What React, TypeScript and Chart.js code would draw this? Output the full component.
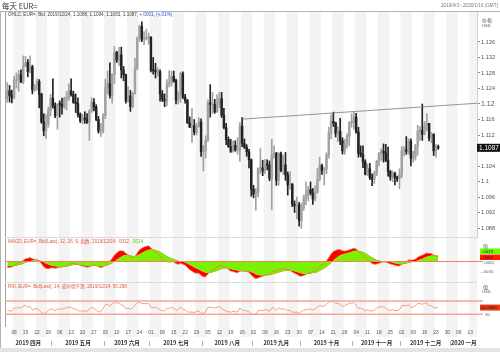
import React, { useEffect, useRef } from "react";
import { Chart, registerables } from "chart.js";

Chart.register(...registerables);

// Daily EUR= OHLC, 2019-04-03 .. 2019-12-24 (trading days)
const openP = [1.1213,1.1234,1.1221,
1.1217,1.1261,1.1263,1.1275,1.1257,
1.1297,1.1307,1.1284,1.1296,1.1236,
1.1246,1.1258,1.1225,1.1154,1.1131,
1.1149,1.1183,1.1215,1.1195,1.1170,
1.1200,1.1199,1.1193,1.1214,1.1215,
1.1234,1.1224,1.1204,1.1201,1.1173,
1.1157,1.1164,1.1161,1.1153,1.1182,
1.1204,1.1192,1.1160,1.1130,1.1131,
1.1170,1.1242,1.1253,1.1222,1.1277,
1.1333,1.1313,1.1327,1.1288,1.1275,
1.1208,1.1221,1.1193,1.1228,1.1292,
1.1369,1.1400,1.1367,1.1369,1.1370,
1.1372,1.1287,1.1286,1.1283,1.1283,
1.1226,1.1212,1.1208,1.1252,1.1255,
1.1271,1.1260,1.1210,1.1225,1.1278,
1.1218,1.1209,1.1151,1.1140,1.1144,
1.1127,1.1144,1.1154,1.1077,1.1082,
1.1107,1.1203,1.1199,1.1199,1.1180,
1.1201,1.1214,1.1171,1.1139,1.1108,
1.1090,1.1078,1.1093,1.1081,1.1081,
1.1143,1.1098,1.1088,1.1077,1.1056,
1.0980,1.0967,1.0971,1.1034,1.1035,
1.1027,1.1045,1.1043,1.1008,1.1067,
1.1073,1.1003,1.1072,1.1029,1.1043,
1.1017,1.0991,1.0993,1.0941,1.0938,
1.0940,1.0899,1.0932,1.0957,1.0966,
1.0979,1.0970,1.0955,1.0972,1.1005,
1.1041,1.1029,1.1032,1.1069,1.1125,
1.1155,1.1151,1.1124,1.1130,1.1105,
1.1079,1.1099,1.1117,1.1152,1.1152,
1.1166,1.1128,1.1073,1.1069,1.1050,
1.1019,1.1033,1.1010,1.1006,1.1022,
1.1052,1.1072,1.1078,1.1074,1.1055,
1.1025,1.1011,1.1021,1.1010,1.1007,
1.1018,1.1079,1.1082,1.1078,1.1104,
1.1060,1.1064,1.1092,1.1130,1.1132,
1.1122,1.1144,1.1150,1.1112,1.1122,
1.1079,1.1088];

const highP = [1.1255,1.1248,1.1236,
1.1272,1.1280,1.1286,1.1288,1.1324,
1.1323,1.1315,1.1324,1.1300,1.1250,
1.1265,1.1263,1.1228,1.1175,1.1173,
1.1192,1.1225,1.1265,1.1203,1.1200,
1.1208,1.1215,1.1218,1.1232,1.1252,
1.1265,1.1233,1.1226,1.1216,1.1177,
1.1174,1.1180,1.1175,1.1185,1.1216,
1.1214,1.1198,1.1168,1.1150,1.1175,
1.1264,1.1285,1.1306,1.1278,1.1348,
1.1336,1.1346,1.1347,1.1297,1.1277,
1.1244,1.1235,1.1230,1.1318,1.1373,
1.1404,1.1412,1.1387,1.1393,1.1383,
1.1374,1.1320,1.1305,1.1293,1.1288,
1.1235,1.1226,1.1263,1.1286,1.1285,
1.1285,1.1264,1.1232,1.1282,1.1283,
1.1225,1.1212,1.1167,1.1188,1.1160,
1.1150,1.1165,1.1162,1.1093,1.1118,
1.1211,1.1250,1.1230,1.1212,1.1224,
1.1230,1.1230,1.1189,1.1150,1.1115,
1.1109,1.1105,1.1105,1.1113,1.1152,
1.1165,1.1110,1.1095,1.1083,1.1058,
1.0990,1.0982,1.1035,1.1085,1.1055,
1.1057,1.1056,1.1053,1.1109,1.1092,
1.1075,1.1075,1.1076,1.1068,1.1075,
1.1025,1.1025,1.0995,1.0950,1.0960,
1.0946,1.0944,1.0965,1.0999,1.0988,
1.0999,1.0982,1.0989,1.1033,1.1063,
1.1045,1.1036,1.1074,1.1140,1.1172,
1.1179,1.1153,1.1141,1.1163,1.1113,
1.1109,1.1123,1.1155,1.1175,1.1179,
1.1176,1.1140,1.1092,1.1092,1.1056,
1.1045,1.1047,1.1020,1.1027,1.1055,
1.1075,1.1084,1.1097,1.1096,1.1089,
1.1029,1.1027,1.1024,1.1014,1.1033,
1.1090,1.1090,1.1116,1.1110,1.1110,
1.1078,1.1096,1.1145,1.1142,1.1200,
1.1155,1.1175,1.1150,1.1127,1.1123,
1.1095,1.1094];

const lowP = [1.1204,1.1205,1.1203,
1.1213,1.1241,1.1233,1.1255,1.1252,
1.1296,1.1270,1.1280,1.1226,1.1232,
1.1236,1.1190,1.1150,1.1118,1.1111,
1.1140,1.1169,1.1189,1.1165,1.1135,
1.1166,1.1174,1.1188,1.1185,1.1209,
1.1220,1.1202,1.1178,1.1166,1.1152,
1.1149,1.1150,1.1150,1.1106,1.1178,
1.1182,1.1157,1.1125,1.1116,1.1125,
1.1162,1.1226,1.1215,1.1202,1.1253,
1.1307,1.1298,1.1267,1.1260,1.1202,
1.1205,1.1181,1.1190,1.1225,1.1288,
1.1361,1.1361,1.1353,1.1365,1.1354,
1.1283,1.1277,1.1267,1.1272,1.1207,
1.1206,1.1193,1.1195,1.1244,1.1246,
1.1256,1.1200,1.1200,1.1204,1.1214,
1.1202,1.1150,1.1139,1.1101,1.1120,
1.1120,1.1140,1.1065,1.1027,1.1060,
1.1103,1.1166,1.1175,1.1176,1.1178,
1.1190,1.1165,1.1136,1.1095,1.1088,
1.1075,1.1076,1.1078,1.1070,1.1052,
1.1090,1.1085,1.1065,1.1035,1.0962,
1.0958,1.0926,1.0960,1.1020,1.1015,
1.1020,1.1030,1.1002,1.0927,1.1060,
1.0990,1.0990,1.1025,1.1018,1.1003,
1.0965,1.0980,1.0935,1.0920,1.0904,
1.0885,1.0879,1.0925,1.0940,1.0950,
1.0965,1.0941,1.0950,1.0970,1.1002,
1.1018,1.0991,1.1020,1.1060,1.1110,
1.1142,1.1115,1.1103,1.1095,1.1071,
1.1070,1.1086,1.1092,1.1140,1.1135,
1.1125,1.1063,1.1063,1.1036,1.1017,
1.1015,1.1005,1.0989,1.0995,1.1015,
1.1040,1.1055,1.1050,1.1051,1.1014,
1.1003,1.0999,1.0991,1.1000,1.0981,
1.1010,1.1066,1.1070,1.1070,1.1040,
1.1050,1.1055,1.1068,1.1106,1.1106,
1.1120,1.1131,1.1105,1.1100,1.1067,
1.1063,1.1083];

const closeP = [1.1234,1.1221,1.1217,
1.1261,1.1263,1.1275,1.1257,1.1297,
1.1307,1.1284,1.1296,1.1236,1.1246,
1.1258,1.1225,1.1154,1.1131,1.1149,
1.1183,1.1215,1.1195,1.1170,1.1200,
1.1199,1.1193,1.1214,1.1215,1.1234,
1.1224,1.1204,1.1201,1.1173,1.1157,
1.1164,1.1161,1.1153,1.1182,1.1204,
1.1192,1.1160,1.1130,1.1131,1.1170,
1.1242,1.1253,1.1222,1.1277,1.1333,
1.1313,1.1327,1.1288,1.1275,1.1208,
1.1221,1.1193,1.1228,1.1292,1.1369,
1.1400,1.1367,1.1369,1.1370,1.1372,
1.1287,1.1286,1.1283,1.1283,1.1226,
1.1212,1.1208,1.1252,1.1255,1.1271,
1.1260,1.1210,1.1225,1.1278,1.1218,
1.1209,1.1151,1.1140,1.1144,1.1127,
1.1144,1.1154,1.1077,1.1082,1.1107,
1.1203,1.1199,1.1199,1.1180,1.1201,
1.1214,1.1171,1.1139,1.1108,1.1090,
1.1078,1.1093,1.1081,1.1081,1.1143,
1.1098,1.1088,1.1077,1.1056,1.0980,
1.0967,1.0971,1.1034,1.1035,1.1027,
1.1045,1.1043,1.1008,1.1067,1.1073,
1.1003,1.1072,1.1029,1.1043,1.1017,
1.0991,1.0993,1.0941,1.0938,1.0940,
1.0899,1.0932,1.0957,1.0966,1.0979,
1.0970,1.0955,1.0972,1.1005,1.1041,
1.1029,1.1032,1.1069,1.1125,1.1155,
1.1151,1.1124,1.1130,1.1105,1.1079,
1.1099,1.1117,1.1152,1.1152,1.1166,
1.1128,1.1073,1.1069,1.1050,1.1019,
1.1033,1.1010,1.1006,1.1022,1.1052,
1.1072,1.1078,1.1074,1.1055,1.1025,
1.1011,1.1021,1.1010,1.1007,1.1018,
1.1079,1.1082,1.1078,1.1104,1.1060,
1.1064,1.1092,1.1130,1.1132,1.1122,
1.1144,1.1150,1.1112,1.1122,1.1079,
1.1089,1.1087];

// weekly ticks (Mondays), first Monday = trading index 3 (2019-04-08)
const firstMondayIndex = 3;
const weekTickLabels = ["08","15","22","29","06","13","20","27","03","10","17","24","01","08","15","22","29","05","12","19","26","02","09","16","23","30","07","14","21","28","04","11","18","25","02","09","16","23","30","06","13"];
const monthLabels = ["2019 四月","2019 五月","2019 六月","2019 七月","2019 八月","2019 九月","2019 十月","2019 十一月","2019 十二月","2020 一月"];
const monthStartIndex = [-2, 20, 43, 63, 86, 108, 129, 152, 173, 195];
const xMin = -1;
const xMax = 206;

const priceTicks = [1.136,1.132,1.128,1.124,1.12,1.116,1.112,1.108,1.104,1.1,1.096,1.092,1.088];
const trendX = [103, 206];
const trendY = [1.1161, 1.1202];
const lastPrice = "1.1087";
// MACD / signal levels at the first visible day
const macdStart = -0.0018;
const signalStart = -0.0012;
const rsiStart = 42;

const FONT = '"Liberation Sans", "Noto Sans CJK SC", sans-serif';
const CJK = '"Noto Sans CJK SC", "Liberation Sans", sans-serif';
const f = (size: number, weight = "normal", fam = FONT) => `${weight} ${size}px ${fam}`;

function ema(vals: number[], n: number, start: number) {
  const k = 2 / (n + 1);
  const out: number[] = [];
  let e = start;
  vals.forEach((v, i) => {
    e = i === 0 ? start : v * k + e * (1 - k);
    out.push(e);
  });
  return out;
}

function rsiCalc(vals: number[], n: number, start: number) {
  let seed = 0;
  for (let i = 1; i <= n; i++) seed += Math.abs(vals[i] - vals[i - 1]);
  seed = seed / n;
  let ag = (seed * start) / 100, al = (seed * (100 - start)) / 100;
  const out: (number | null)[] = [start];
  for (let i = 1; i < vals.length; i++) {
    const d = vals[i] - vals[i - 1];
    ag = (ag * (n - 1) + Math.max(d, 0)) / n;
    al = (al * (n - 1) + Math.max(-d, 0)) / n;
    out.push(al === 0 ? 100 : 100 - 100 / (1 + ag / al));
  }
  return out;
}

const hline = (ctx: any, x0: number, x1: number, y: number) => {
  ctx.beginPath(); ctx.moveTo(x0, y); ctx.lineTo(x1, y); ctx.stroke();
};

const decorPlugin = {
  id: "decor",
  beforeDraw(chart: any) {
    const { ctx, chartArea: a, scales } = chart;
    const xs = scales.x;
    ctx.save();
    ctx.fillStyle = "#ffffff";
    ctx.fillRect(0, 0, chart.width, chart.height);
    ctx.fillStyle = "#f3f3f3";
    for (let k = 0; k <= 41; k += 2) {
      const s = firstMondayIndex + 5 * k;
      const x0 = Math.max(xs.getPixelForValue(s - 0.5), a.left);
      const x1 = Math.min(xs.getPixelForValue(s + 4.5), a.right);
      if (x1 > x0) ctx.fillRect(x0, a.top, x1 - x0, a.bottom + 10 - a.top);
    }
    ctx.fillStyle = "#e4e4e4";
    ctx.fillRect(0, 348, chart.width, 4);
    ctx.lineWidth = 1;
    ctx.strokeStyle = "#b4b4b4";
    hline(ctx, 0, chart.width, a.top - 0.5);
    ctx.beginPath(); ctx.moveTo(0.5, a.top); ctx.lineTo(0.5, 348); ctx.stroke();
    ctx.strokeStyle = "#a0a0a0";
    ctx.beginPath(); ctx.moveTo(a.left + 0.5, a.top); ctx.lineTo(a.left + 0.5, a.bottom); ctx.stroke();
    ctx.strokeStyle = "#dcdcdc";
    hline(ctx, a.left, a.right, Math.round(scales.yMacd.top) + 0.5);
    hline(ctx, a.left, a.right, Math.round(scales.yRsi.top) + 0.5);
    const yr = scales.yRsi;
    ctx.strokeStyle = "#f6a596";
    ctx.lineWidth = 1.5;
    [70, 30].forEach((v) => hline(ctx, a.left, a.right + 6, yr.getPixelForValue(v)));
    ctx.restore();
  },
  afterDatasetsDraw(chart: any) {
    const { ctx, chartArea: a, scales } = chart;
    ctx.save();
    ctx.strokeStyle = "#f0845e";
    ctx.lineWidth = 1;
    hline(ctx, a.left, a.right + 6, Math.round(scales.yMacd.getPixelForValue(0)) + 0.5);
    ctx.restore();
  },
  afterDraw(chart: any) {
    const { ctx, chartArea: a, scales } = chart;
    const xs = scales.x, ym = scales.yMacd, yr = scales.yRsi, yp = scales.y;
    ctx.save();
    ctx.textBaseline = "middle";
    ctx.textAlign = "left";
    ctx.fillStyle = "#333";
    ctx.font = f(7.5, "normal", CJK);
    ctx.fillText("每天 EUR=", 2, 6);
    ctx.textAlign = "right";
    ctx.fillStyle = "#777";
    ctx.font = f(4.6);
    ctx.fillText("2019/4/3 - 2020/1/16 (GMT)", 498, 6);

    ctx.textAlign = "left";
    ctx.fillStyle = "#444";
    const lg = "OHLC, EUR=, Bid, 2019/12/24, 1.1088, 1.1094, 1.1083, 1.1087, ";
    ctx.fillText(lg, 8, 15);
    ctx.fillStyle = "#3550d0";
    ctx.fillText("+.0001, (+.01%)", 8 + ctx.measureText(lg).width, 15);

    ctx.fillStyle = "#555";
    ctx.font = f(5, "normal", CJK);
    ctx.fillText("价格", 482, 20);
    ctx.font = f(4.2);
    ctx.fillText("USD", 482, 26);

    // last price box
    const yl = yp.getPixelForValue(Number(lastPrice));
    ctx.fillStyle = "#111";
    ctx.fillRect(a.right, yl - 4, 500 - a.right, 8);
    ctx.fillStyle = "#fff";
    ctx.font = f(6.5);
    ctx.fillText(lastPrice, a.right + 2, yl + 0.5);

    // MACD texts
    ctx.font = f(4.6);
    ctx.fillStyle = "#e4583a";
    const mt = "MACD, EUR=, Bid(Last), 12, 26, 9, 指数, 2019/12/24, .0012, ";
    ctx.fillText(mt, 8, ym.top + 4.5);
    ctx.fillStyle = "#4fcc00";
    ctx.fillText(".0014", 8 + ctx.measureText(mt).width, ym.top + 4.5);
    ctx.fillStyle = "#555";
    ctx.font = f(5, "normal", CJK);
    ctx.fillText("值", 483, 246);
    ctx.fillStyle = "#66ff00";
    ctx.fillRect(480, 248.5, 20, 5.5);
    ctx.fillStyle = "#ff1a00";
    ctx.fillRect(480, 254.5, 20, 5.5);
    ctx.font = f(4.4);
    ctx.fillStyle = "#222";
    ctx.fillText(".0019", 482, 251.3);
    ctx.fillText(".0002", 482, 257.3);
    ctx.fillStyle = "#666";
    ctx.fillText(".0000", 483, ym.getPixelForValue(0) + 1.5);
    ctx.fillText("-.0030", 481, ym.getPixelForValue(-0.003));

    // RSI texts
    ctx.font = f(4.6);
    ctx.fillStyle = "#e4583a";
    ctx.fillText("RSI, EUR=, Bid(Last), 14, 威尔德平滑, 2019/12/24, 50.298", 8, yr.top + 4.5);
    ctx.fillStyle = "#555";
    ctx.font = f(5, "normal", CJK);
    ctx.fillText("值", 483, yr.top + 5);
    ctx.font = f(4.2);
    ctx.fillText("USD", 482, yr.top + 10);
    const yv = yr.getPixelForValue(50.298);
    ctx.fillStyle = "#e83a10";
    ctx.fillRect(480, yv - 3, 20, 6);
    ctx.fillStyle = "#222";
    ctx.font = f(4.4);
    ctx.fillText("50.2980", 481, yv + 0.3);
    ctx.fillStyle = "#666";
    ctx.fillText("30", 485, yr.getPixelForValue(30));

    // week ticks
    ctx.textAlign = "center";
    ctx.fillStyle = "#555";
    ctx.font = f(4.8);
    weekTickLabels.forEach((t, k) => {
      const px = xs.getPixelForValue(firstMondayIndex + 5 * k);
      if (px > a.left && px < a.right) ctx.fillText(t, px, a.bottom + 6);
    });
    // months
    ctx.font = f(5.6, "bold", CJK);
    monthLabels.forEach((m, i) => {
      const l = Math.max(xs.getPixelForValue(monthStartIndex[i] - 0.5), a.left);
      const r = i + 1 < monthStartIndex.length ? xs.getPixelForValue(monthStartIndex[i + 1] - 0.5) : a.right;
      ctx.fillStyle = "#333";
      ctx.fillText(m, (l + r) / 2, a.bottom + 16);
      if (i > 0) {
        ctx.fillStyle = "#666";
        ctx.font = f(6);
        ctx.fillText("|", l, a.bottom + 16);
        ctx.font = f(5.6, "bold", CJK);
      }
    });
    ctx.restore();
  },
};

export default function App() {
  const ref = useRef<HTMLCanvasElement>(null);
  useEffect(() => {
    const idx = closeP.map((_, i) => i);
    const up = closeP.map((c, i) => c >= openP[i]);
    const cols = up.map((u) => (u ? "#a2a2a2" : "#222222"));
    const e12 = ema(closeP, 12, closeP[0] + macdStart / 2);
    const e26 = ema(closeP, 26, closeP[0] - macdStart / 2);
    const macd = e12.map((v, i) => v - e26[i]);
    const sig = ema(macd, 9, signalStart);
    const rsi = rsiCalc(closeP, 14, rsiStart);
    const sideAxis = (weight: number, min: number, max: number) => ({
      type: "linear",
      position: "right",
      stack: "panels",
      stackWeight: weight,
      min,
      max,
      afterFit: (s: any) => { s.width = 23; },
      ticks: { display: false },
      grid: { display: false },
      border: { display: false },
    });
    const chart = new Chart(ref.current as HTMLCanvasElement, {
      type: "bar",
      data: {
        datasets: [
          { type: "line", data: trendX.map((x, i) => ({ x, y: trendY[i] })), borderColor: "#7a7a7a", borderWidth: 0.8, pointRadius: 0, yAxisID: "y", order: 0 },
          { type: "bar", data: idx.map((i) => ({ x: i, y: [openP[i], closeP[i]] })), backgroundColor: cols, borderWidth: 0, barThickness: 1.8, minBarLength: 1, grouped: false, yAxisID: "y", order: 1 },
          { type: "bar", data: idx.map((i) => ({ x: i, y: [lowP[i], highP[i]] })), backgroundColor: cols, borderWidth: 0, barThickness: 1, grouped: false, yAxisID: "y", order: 2 },
          { type: "line", data: idx.map((i) => ({ x: i, y: macd[i] })), borderColor: "#e8764e", borderWidth: 0.8, pointRadius: 0, fill: false, yAxisID: "yMacd", order: 3 },
          { type: "line", data: idx.map((i) => ({ x: i, y: sig[i] })), borderColor: "rgba(0,0,0,0)", borderWidth: 0, backgroundColor: "#7cf000", fill: "origin", pointRadius: 0, yAxisID: "yMacd", order: 4 },
          { type: "line", data: idx.map((i) => ({ x: i, y: macd[i] })), borderColor: "rgba(0,0,0,0)", borderWidth: 0, backgroundColor: "#ff0000", fill: 4, pointRadius: 0, yAxisID: "yMacd", order: 5 },
          { type: "line", data: idx.map((i) => ({ x: i, y: rsi[i] })), borderColor: "#f4a083", borderWidth: 1, pointRadius: 0, fill: false, yAxisID: "yRsi", order: 6 },
        ] as any,
      },
      options: {
        responsive: false,
        animation: false,
        devicePixelRatio: 1,
        events: [],
        layout: { padding: { left: 5, top: 12, right: 0, bottom: 25 } },
        plugins: { legend: { display: false }, tooltip: { enabled: false } },
        scales: {
          x: { type: "linear", min: xMin, max: xMax, offset: false, display: false },
          y: {
            type: "linear",
            position: "right",
            stack: "panels",
            stackWeight: 225,
            min: 1.08568,
            max: 1.14374,
            afterFit: (s: any) => { s.width = 23; },
            afterBuildTicks: (s: any) => { s.ticks = priceTicks.map((v) => ({ value: v })); },
            ticks: {
              autoSkip: false,
              callback: (v: any) => String(Number(Number(v).toFixed(3))),
              color: "#555",
              padding: 1,
              font: (c: any) => (c.tick && c.tick.value === 1.12 ? { size: 7, family: FONT } : { size: 5.6, family: FONT }),
            },
            grid: { drawOnChartArea: false, tickLength: 3, color: "#888" },
            border: { color: "#cfcfcf" },
          },
          yMacd: sideAxis(45, -0.00573, 0.00655),
          yRsi: sideAxis(45, -8, 127),
        } as any,
      },
      plugins: [decorPlugin],
    } as any);
    return () => chart.destroy();
  }, []);
  return (
    <div style={{ position: "absolute", left: 0, top: 0, width: 500, height: 352 }}>
      <canvas ref={ref} width={500} height={352} style={{ display: "block" }} />
    </div>
  );
}
